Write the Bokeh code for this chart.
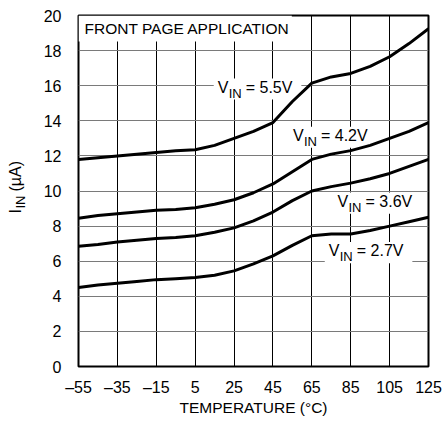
import math
from bokeh.plotting import figure
from bokeh.layouts import row
from bokeh.models import Label, BoxAnnotation
from bokeh.embed import file_html
from bokeh.resources import INLINE

# ---- data ----
temps = [-55, -45, -35, -25, -15, -5, 5, 15, 25, 35, 45, 55, 65, 75, 85, 95, 105, 115, 125]
iin_5v5 = [11.8, 11.9, 12.0, 12.1, 12.2, 12.3, 12.35, 12.6, 13.0, 13.4, 13.9, 15.1, 16.15, 16.5, 16.7, 17.1, 17.65, 18.4, 19.25]
iin_4v2 = [8.45, 8.6, 8.7, 8.8, 8.9, 8.95, 9.05, 9.25, 9.5, 9.9, 10.4, 11.1, 11.8, 12.1, 12.3, 12.6, 13.0, 13.4, 13.9]
iin_3v6 = [6.85, 6.95, 7.1, 7.2, 7.3, 7.35, 7.45, 7.65, 7.9, 8.3, 8.8, 9.45, 10.0, 10.25, 10.45, 10.7, 11.0, 11.4, 11.8]
iin_2v7 = [4.5, 4.65, 4.75, 4.85, 4.95, 5.0, 5.07, 5.2, 5.45, 5.85, 6.3, 6.9, 7.45, 7.55, 7.55, 7.75, 8.0, 8.25, 8.5]
series = [iin_5v5, iin_4v2, iin_3v6, iin_2v7]

x_ticks = [-55, -35, -15, 5, 25, 45, 65, 85, 105, 125]
x_tick_labels = ["\u201355", "\u201335", "\u201315", "5", "25", "45", "65", "85", "105", "125"]
y_ticks = [0, 2, 4, 6, 8, 10, 12, 14, 16, 18, 20]

# curve labels: left edge of "V" (deg C) and text baseline (uA)
label_x = [16.6, 55.3, 78.2, 73.7]
label_y = [15.63, 12.88, 9.13, 6.31]
label_rest = ["= 5.5V", "= 4.2V", "= 3.6V", "= 2.7V"]
# white box behind each label, relative to that anchor (deg C, uA)
box_dx = (-2.05, 43.0)
box_dy = (-0.42, 0.78)

title_text = "FRONT PAGE APPLICATION"
title_box = dict(left=-55, right=54.7, bottom=18.52, top=20)
x_title = "TEMPERATURE (\u00b0C)"
y_title_parts = ["I", "IN", "(\u00b5A)"]

FONT = "Liberation Sans"
BASE_SHIFT = 5  # px: lift texts so the drawn baseline lands on the anchor

# ---- left strip holding the rotated y-axis title ----
side = figure(width=40, height=425, output_backend="svg", toolbar_location=None,
              min_border=0, x_range=(0, 1), y_range=(0, 1))
side.axis.visible = False
side.grid.visible = False
side.outline_line_color = None
side.background_fill_color = "white"
side.border_fill_color = "white"
yb_x, yb_y = 15, 153
side.add_layout(Label(x=yb_x, y=yb_y, x_units="screen", y_units="screen", text=y_title_parts[0],
                      angle=math.pi / 2, text_font=FONT, text_font_size="16px",
                      text_color="black", text_baseline="alphabetic"))
side.add_layout(Label(x=yb_x, y=yb_y, x_units="screen", y_units="screen", x_offset=5, y_offset=5,
                      text=y_title_parts[1], angle=math.pi / 2, text_font=FONT,
                      text_font_size="13px", text_color="black", text_baseline="alphabetic"))
side.add_layout(Label(x=yb_x, y=yb_y, x_units="screen", y_units="screen", y_offset=22,
                      text=y_title_parts[2], angle=math.pi / 2, text_font=FONT,
                      text_font_size="16px", text_color="black", text_baseline="alphabetic"))

# ---- main chart ----
p = figure(width=404, height=425, x_range=(-55, 125), y_range=(0, 20),
           output_backend="svg", toolbar_location=None,
           min_border_left=37, min_border_right=16, min_border_top=15, min_border_bottom=59)
p.background_fill_color = "white"
p.border_fill_color = "white"
p.outline_line_color = "black"
p.outline_line_width = 2

p.xaxis.ticker = x_ticks
p.xaxis.major_label_overrides = {t: s for t, s in zip(x_ticks, x_tick_labels)}
p.yaxis.ticker = y_ticks
for ax in (p.xaxis[0], p.yaxis[0]):
    ax.axis_line_color = None
    ax.major_tick_line_color = None
    ax.minor_tick_line_color = None
    ax.major_label_text_font = FONT
    ax.major_label_text_font_size = "16px"
    ax.major_label_text_color = "black"
p.xaxis.major_label_standoff = 6
p.yaxis.major_label_standoff = 11
p.xaxis.axis_label = x_title
p.xaxis.axis_label_text_font = FONT
p.xaxis.axis_label_text_font_size = "15.5px"
p.xaxis.axis_label_text_font_style = "normal"
p.xaxis.axis_label_text_color = "black"
p.xaxis.axis_label_standoff = 0

p.xgrid.grid_line_color = "black"
p.xgrid.grid_line_width = 1
p.ygrid.grid_line_color = "#7a7a7a"
p.ygrid.grid_line_width = 1

# white boxes that mask the grid behind the texts
p.add_layout(BoxAnnotation(**title_box, fill_color="white", fill_alpha=1.0,
                           line_color=None, level="underlay"))
for lx, ly in zip(label_x, label_y):
    p.add_layout(BoxAnnotation(left=lx + box_dx[0], right=lx + box_dx[1],
                               bottom=ly + box_dy[0], top=ly + box_dy[1],
                               fill_color="white", fill_alpha=1.0, line_color=None,
                               level="underlay"))

for s in series:
    p.line(temps, s, line_width=3, line_color="black", line_join="round")

p.add_layout(Label(x=-55, y=20, x_offset=6, y_offset=-18.3 + BASE_SHIFT, text=title_text,
                   text_font=FONT, text_font_size="15.5px", text_color="black",
                   text_align="left", text_baseline="alphabetic"))

for lx, ly, rest in zip(label_x, label_y, label_rest):
    p.add_layout(Label(x=lx, y=ly, y_offset=BASE_SHIFT, text="V", text_font=FONT,
                       text_font_size="16px", text_color="black", text_align="left",
                       text_baseline="alphabetic"))
    p.add_layout(Label(x=lx, y=ly, x_offset=11, y_offset=BASE_SHIFT - 6, text="IN",
                       text_font=FONT, text_font_size="13px", text_color="black",
                       text_align="left", text_baseline="alphabetic"))
    p.add_layout(Label(x=lx, y=ly, x_offset=28, y_offset=BASE_SHIFT, text=rest,
                       text_font=FONT, text_font_size="16px", text_color="black",
                       text_align="left", text_baseline="alphabetic"))

layout = row(side, p, spacing=0)
open("out.html", "w").write(file_html(layout, INLINE))
